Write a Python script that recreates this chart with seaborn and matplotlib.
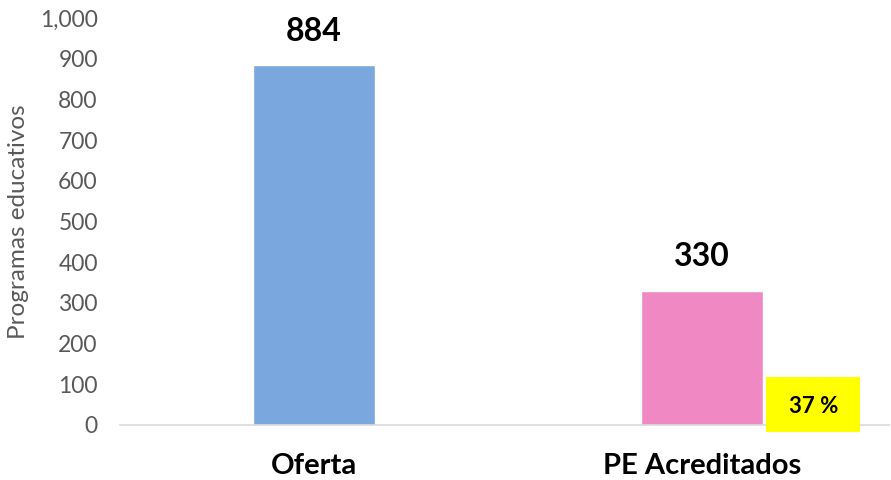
import pandas as pd
import numpy as np
import matplotlib
matplotlib.use("Agg")
import matplotlib.pyplot as plt
import seaborn as sns
from matplotlib.patches import Rectangle

categorias = ["Oferta", "PE Acreditados"]
programas = [884, 330]
colores = ["#7BA7DF", "#F088C4"]
porcentaje = "37 %"

df = pd.DataFrame({"cat": categorias, "val": programas})

sns.set_style("white")
plt.rcParams["font.family"] = ["Lato", "DejaVu Sans"]

fig = plt.figure(figsize=(8.91, 4.8), dpi=100)
ax = fig.add_axes([0.1347, 0.1146, 0.8631, 0.8479])

sns.barplot(data=df, x="cat", y="val", hue="cat", palette=colores,
            width=0.315, legend=False, ax=ax, saturation=1)

ax.set_xlim(-0.5, 1.482)
ax.set_ylim(0, 1000)
ax.set_yticks(np.arange(0, 1001, 100))
ax.yaxis.set_major_formatter(matplotlib.ticker.FuncFormatter(lambda v, p: f"{int(v):,}"))
ax.tick_params(axis="y", labelsize=16.5, labelcolor="#595959", length=0, pad=16)
ax.tick_params(axis="x", labelsize=21, labelcolor="black", length=0, pad=20)
for lab in ax.get_xticklabels():
    lab.set_fontweight("bold")
ax.set_xlabel("")
ax.set_ylabel("Programas educativos", fontsize=17.5, color="#595959", labelpad=8)

for s in ["top", "right", "left"]:
    ax.spines[s].set_visible(False)
ax.spines["bottom"].set_color("#d9d9d9")
ax.spines["bottom"].set_linewidth(1.2)

for i, v in enumerate(programas):
    ax.annotate(str(v), (i, v), xytext=(0, 14), textcoords="offset points",
                ha="center", va="bottom", fontsize=23, fontweight="bold",
                color="black")

# cuadro amarillo con el porcentaje
ax.add_patch(Rectangle((1.166, -17), 0.242, 135, facecolor="#FFFF00",
                       edgecolor="none", clip_on=False, zorder=3))
ax.text(1.287, 46, porcentaje, ha="center", va="center", fontsize=16,
        fontweight="bold", color="black", zorder=4)

fig.savefig("out.png", dpi=100)
